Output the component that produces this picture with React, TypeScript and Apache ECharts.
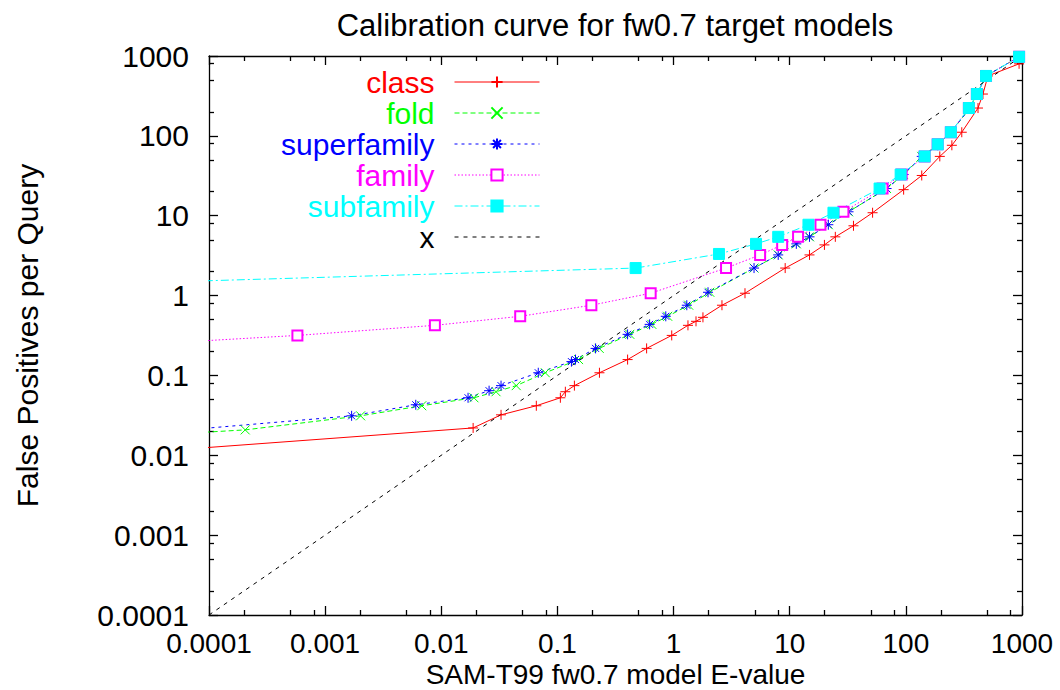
import React, { useEffect, useRef } from "react";
import * as echarts from "echarts";

// ---- data ----
const classX = [0.00001, 0.0188, 0.0327, 0.0658, 0.106, 0.117, 0.14, 0.23, 0.402, 0.586, 0.964, 1.33, 1.56, 1.79, 2.61, 4.12, 9.14, 14.8, 19.9, 24.7, 35.4, 51.7, 95.7, 137, 196, 249, 303, 418, 461, 509, 944];
const classY = [0.0098, 0.022, 0.0321, 0.0417, 0.0525, 0.0625, 0.0745, 0.108, 0.158, 0.218, 0.317, 0.424, 0.476, 0.534, 0.757, 1.07, 2.21, 3.23, 4.31, 5.44, 7.48, 10.9, 21.2, 31.9, 55.3, 76.2, 111, 223, 334, 563, 798];

const foldX = [0.00001, 0.000205, 0.00202, 0.00679, 0.0191, 0.0296, 0.0442, 0.0786, 0.152, 0.229, 0.42, 0.65, 0.89, 1.35, 2.05, 4.93, 7.96, 11.4, 14.8, 21.5, 32.1, 68.2, 95.7, 137, 188, 244, 356, 409, 490, 944];
const foldY = [0.0161, 0.0208, 0.0312, 0.0417, 0.0525, 0.0625, 0.0745, 0.108, 0.158, 0.218, 0.327, 0.436, 0.55, 0.757, 1.1, 2.21, 3.23, 4.44, 5.44, 7.71, 11.2, 21.9, 32.8, 55.3, 76.2, 111, 223, 334, 563, 977];

const supX = [0.00001, 0.00169, 0.00603, 0.017, 0.0258, 0.0327, 0.0684, 0.132, 0.143, 0.213, 0.402, 0.622, 0.857, 1.3, 1.98, 4.93, 7.96, 11.4, 14.8, 21.5, 32.1, 68.2, 95.7, 137, 188, 244, 356, 409, 490, 944];
const supY = [0.0165, 0.0312, 0.0429, 0.0525, 0.0644, 0.0745, 0.108, 0.149, 0.158, 0.218, 0.327, 0.436, 0.55, 0.757, 1.1, 2.21, 3.23, 4.44, 5.44, 7.71, 11.2, 21.9, 32.8, 55.3, 76.2, 111, 223, 334, 563, 977];

const famX = [0.00001, 0.000577, 0.00881, 0.0478, 0.196, 0.635, 2.83, 5.56, 8.61, 11.8, 18.4, 29.0, 63.0, 92.0, 145, 188, 244, 349, 409, 490, 944];
const famY = [0.226, 0.317, 0.424, 0.55, 0.757, 1.07, 2.21, 3.23, 4.31, 5.44, 7.71, 11.2, 21.9, 32.8, 55.3, 78.3, 111, 223, 334, 563, 977];

const subX = [0.00001, 0.471, 2.46, 5.13, 7.96, 14.5, 23.8, 59.4, 90.2, 145, 188, 244, 349, 409, 490, 944];
const subY = [1.39, 2.21, 3.32, 4.44, 5.44, 7.71, 10.9, 21.9, 32.8, 55.3, 78.3, 111, 223, 334, 563, 977];

const diagX = [0.0001, 1000];
const diagY = [0.0001, 1000];

const tickValues = [0.0001, 0.001, 0.01, 0.1, 1, 10, 100, 1000];
const tickLabels = ["0.0001", "0.001", "0.01", "0.1", "1", "10", "100", "1000"];
const minorValues = [
  0.0002, 0.0005, 0.0008, 0.002, 0.005, 0.008, 0.02, 0.05, 0.08,
  0.2, 0.5, 0.8, 2, 5, 8, 20, 50, 80, 200, 500, 800,
];

const titleText = "Calibration curve for fw0.7 target models";
const xName = "SAM-T99 fw0.7 model E-value";
const yName = "False Positives per Query";

const FONT = "Liberation Sans";

const zip = (xs: number[], ys: number[]) => xs.map((x, i) => [x, ys[i]]);

const fmt = (v: number) => {
  const i = Math.round(Math.log10(v)) + 4;
  return tickLabels[i] ?? "";
};

const SYM_PLUS = "path://M0,5L10,5M5,0L5,10";
const SYM_X = "path://M0,0L10,10M0,10L10,0";
const SYM_STAR = "path://M0,5L10,5M5,0L5,10M1.5,1.5L8.5,8.5M1.5,8.5L8.5,1.5";

export default function App() {
  const ref = useRef<HTMLDivElement>(null);
  useEffect(() => {
    if (!ref.current) return;
    const chart = echarts.init(ref.current, null, { renderer: "svg" });

    const tickLine = { color: "#000", width: 1.3 };
    const logAxis = (position: string, showLine: boolean, isMinor: boolean) => ({
      type: "log",
      logBase: 10,
      position,
      min: tickValues[0],
      max: tickValues[tickValues.length - 1],
      splitLine: { show: false },
      axisLine: { show: showLine, onZero: false, lineStyle: { color: "#000", width: 1.3 } },
      axisTick: {
        show: true,
        inside: true,
        length: isMinor ? 5 : 9,
        customValues: isMinor ? minorValues : tickValues,
        lineStyle: tickLine,
      },
      axisLabel: { show: false },
    });

    const mkSeries = (name: string, xs: number[], ys: number[], color: string, dash: any, symbol: string, size: number, hideSym = false) => ({
      name,
      type: "line",
      data: zip(xs, ys),
      symbol,
      symbolSize: size,
      showSymbol: !hideSym,
      clip: true,
      lineStyle: { color, width: 1, type: dash },
      itemStyle: hideSym
        ? { color: "rgba(0,0,0,0)", borderColor: "rgba(0,0,0,0)", borderWidth: 0 }
        : { color, borderColor: color, borderWidth: 1 },
      emphasis: { disabled: true },
      xAxisIndex: 0,
      yAxisIndex: 0,
    });

    const legendRows = [
      { name: "class", color: "#ff0000", top: 67 },
      { name: "fold", color: "#00ff00", top: 98 },
      { name: "superfamily", color: "#0000ff", top: 129 },
      { name: "family", color: "#ff00ff", top: 160 },
      { name: "subfamily", color: "#00ffff", top: 191 },
      { name: "x", color: "#000000", top: 222 },
    ];

    chart.setOption({
      animation: false,
      textStyle: { fontFamily: FONT },
      title: {
        text: titleText,
        left: 610,
        textAlign: "center",
        top: 5,
        textStyle: { fontFamily: FONT, fontSize: 31, fontWeight: "normal", color: "#000" },
      },
      legend: legendRows.map((r) => ({
        data: [{ name: r.name, textStyle: { color: r.color } }],
        right: 520,
        top: r.top,
        padding: 0,
        align: "right",
        orient: "vertical",
        itemWidth: 85,
        itemHeight: 14,
        selectedMode: false,
        lineStyle: { width: 1 },
        textStyle: { fontFamily: FONT, fontSize: 30, color: r.color, padding: [0, 15, 0, 0] },
      })),
      grid: { left: 209, right: 38, top: 56, bottom: 75, outerBoundsMode: "none" },
      xAxis: [
        {
          ...logAxis("bottom", true, false),
          axisLabel: { show: true, customValues: tickValues, formatter: fmt, fontSize: 28, lineHeight: 28, color: "#000", fontFamily: FONT, margin: 14 },
          name: xName,
          nameLocation: "middle",
          nameGap: 45,
          nameMoveOverlap: false,
          nameTextStyle: { fontSize: 28, lineHeight: 28, color: "#000", fontFamily: FONT },
        },
        logAxis("top", true, false),
        logAxis("bottom", false, true),
        logAxis("top", false, true),
      ],
      yAxis: [
        {
          ...logAxis("left", true, false),
          axisLabel: { show: true, customValues: tickValues, formatter: fmt, fontSize: 30, color: "#000", fontFamily: FONT, margin: 20 },
          name: yName,
          nameLocation: "middle",
          nameGap: 167,
          nameMoveOverlap: false,
          nameTextStyle: { fontSize: 30, color: "#000", fontFamily: FONT },
        },
        logAxis("right", true, false),
        logAxis("left", false, true),
        logAxis("right", false, true),
      ],
      series: [
        mkSeries("class", classX, classY, "#ff0000", "solid", SYM_PLUS, 10),
        mkSeries("fold", foldX, foldY, "#00ff00", [5, 3], SYM_X, 9),
        mkSeries("superfamily", supX, supY, "#0000ff", [3, 4], SYM_STAR, 10),
        mkSeries("family", famX, famY, "#ff00ff", [1.5, 2], "emptyRect", 10),
        mkSeries("subfamily", subX, subY, "#00ffff", [8, 3, 2, 3], "rect", 11),
        mkSeries("x", diagX, diagY, "#000000", [4, 5], "circle", 1, true),
      ],
    });
    return () => chart.dispose();
  }, []);
  return <div ref={ref} style={{ position: "absolute", left: 0, top: 0, width: 1060, height: 690 }} />;
}
